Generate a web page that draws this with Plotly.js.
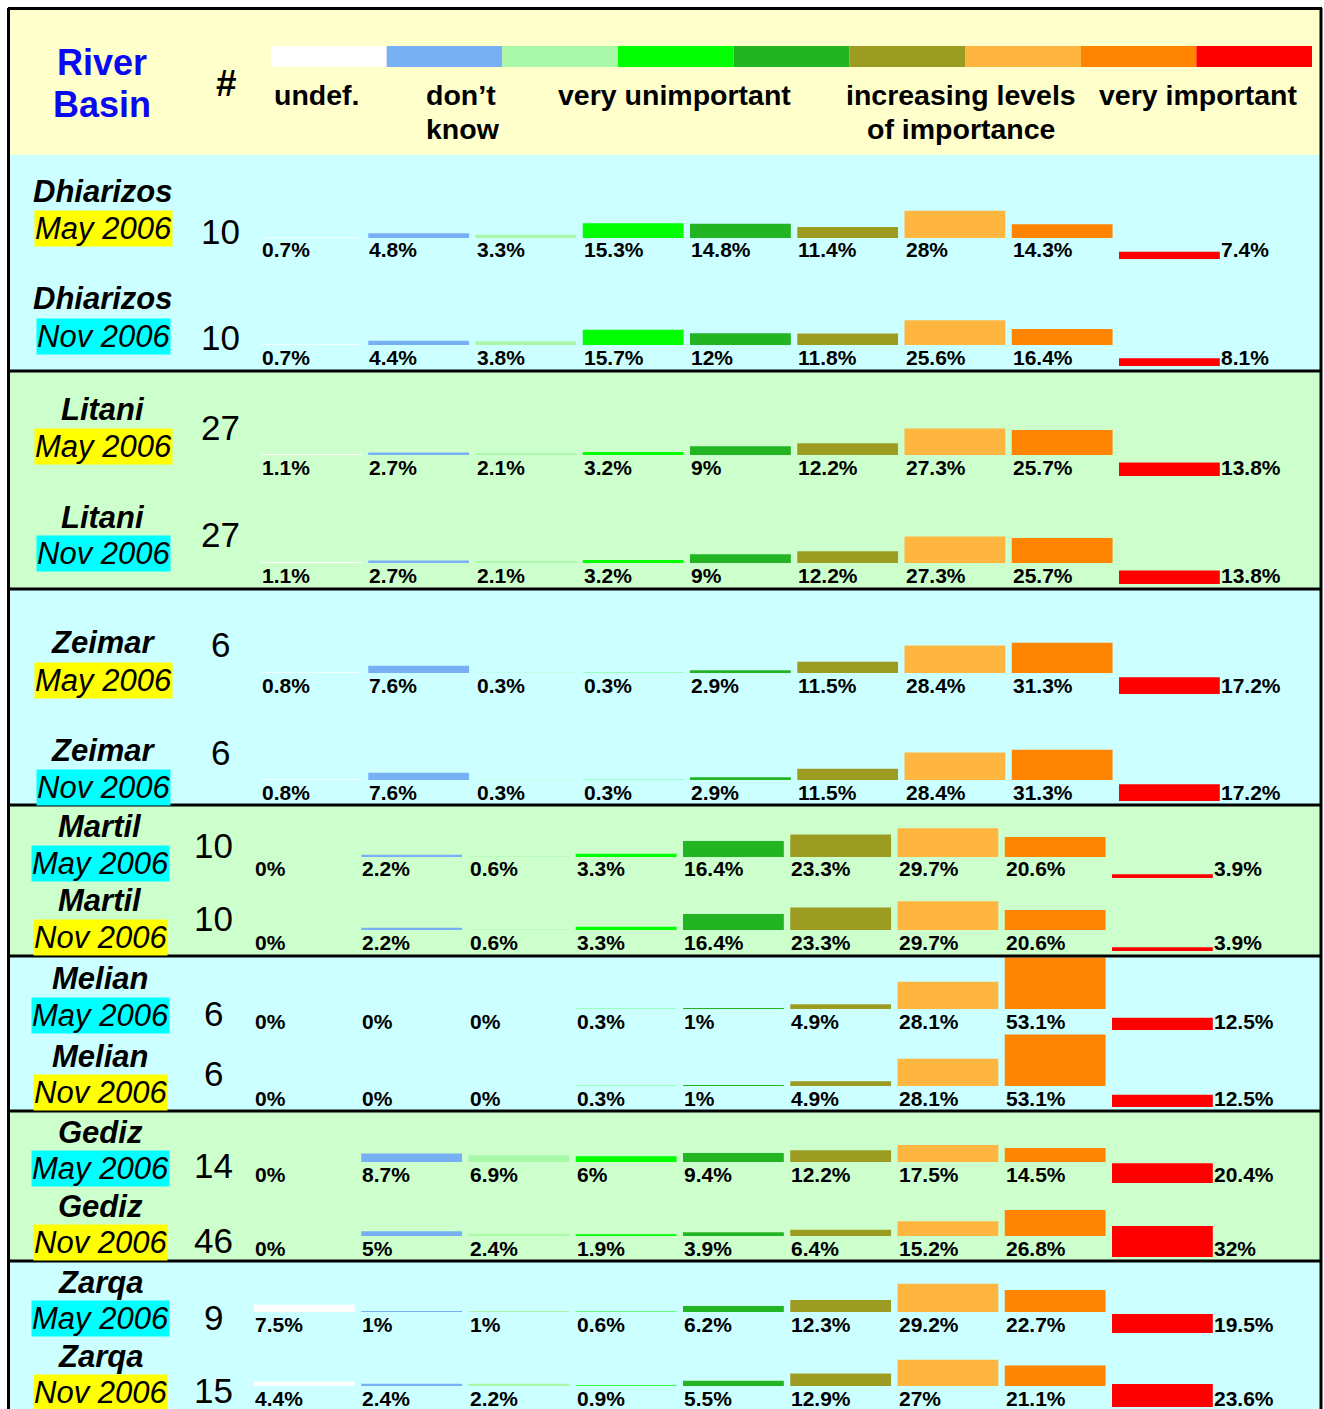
<!DOCTYPE html>
<html><head><meta charset="utf-8">
<script src="https://cdn.plot.ly/plotly-3.0.1.min.js"></script>
<style>html,body{margin:0;padding:0;background:#fff}#chart{width:1324px;height:1409px}</style>
</head><body><div id="chart"></div>
<script>
// ================= DATA =================
const levels = ['undef.', 'don\u2019t know', 'very unimportant', 'level 2', 'level 3', 'level 4', 'level 5', 'level 6', 'very important'];
const keyLabels = ['undef.', 'don\u2019t', 'know', 'very unimportant', 'increasing levels', 'of importance', 'very important'];
const headerLabels = ['River', 'Basin', '#'];
const basins = ['Dhiarizos', 'Dhiarizos', 'Litani', 'Litani', 'Zeimar', 'Zeimar', 'Martil', 'Martil',
                'Melian', 'Melian', 'Gediz', 'Gediz', 'Zarqa', 'Zarqa'];
const surveys = ['May 2006', 'Nov 2006', 'May 2006', 'Nov 2006', 'May 2006', 'Nov 2006', 'May 2006', 'Nov 2006',
                 'May 2006', 'Nov 2006', 'May 2006', 'Nov 2006', 'May 2006', 'Nov 2006'];
const respondents = [10, 10, 27, 27, 6, 6, 10, 10, 6, 6, 14, 46, 9, 15];

const dhiarizosMay = [0.7, 4.8, 3.3, 15.3, 14.8, 11.4, 28, 14.3, 7.4];
const dhiarizosNov = [0.7, 4.4, 3.8, 15.7, 12, 11.8, 25.6, 16.4, 8.1];
const litaniMay    = [1.1, 2.7, 2.1, 3.2, 9, 12.2, 27.3, 25.7, 13.8];
const litaniNov    = [1.1, 2.7, 2.1, 3.2, 9, 12.2, 27.3, 25.7, 13.8];
const zeimarMay    = [0.8, 7.6, 0.3, 0.3, 2.9, 11.5, 28.4, 31.3, 17.2];
const zeimarNov    = [0.8, 7.6, 0.3, 0.3, 2.9, 11.5, 28.4, 31.3, 17.2];
const martilMay    = [0, 2.2, 0.6, 3.3, 16.4, 23.3, 29.7, 20.6, 3.9];
const martilNov    = [0, 2.2, 0.6, 3.3, 16.4, 23.3, 29.7, 20.6, 3.9];
const melianMay    = [0, 0, 0, 0.3, 1, 4.9, 28.1, 53.1, 12.5];
const melianNov    = [0, 0, 0, 0.3, 1, 4.9, 28.1, 53.1, 12.5];
const gedizMay     = [0, 8.7, 6.9, 6, 9.4, 12.2, 17.5, 14.5, 20.4];
const gedizNov     = [0, 5, 2.4, 1.9, 3.9, 6.4, 15.2, 26.8, 32];
const zarqaMay     = [7.5, 1, 1, 0.6, 6.2, 12.3, 29.2, 22.7, 19.5];
const zarqaNov     = [4.4, 2.4, 2.2, 0.9, 5.5, 12.9, 27, 21.1, 23.6];

const rowValues = [dhiarizosMay, dhiarizosNov, litaniMay, litaniNov, zeimarMay, zeimarNov,
                   martilMay, martilNov, melianMay, melianNov, gedizMay, gedizNov, zarqaMay, zarqaNov];

// ================= STYLE / LAYOUT =================
const W = 1324, H = 1409;
const FONT = 'Liberation Sans, Arial, Helvetica, sans-serif';
const levelColors = ['#FFFFFF', '#77B0F5', '#A8F8A8', '#00FF00', '#22B422', '#9C9C22', '#FFB640', '#FF8400', '#FF0000'];
const dateHighlight = ['#FFFF00', '#00FFFF', '#FFFF00', '#00FFFF', '#FFFF00', '#00FFFF', '#00FFFF', '#FFFF00',
                       '#00FFFF', '#FFFF00', '#00FFFF', '#FFFF00', '#00FFFF', '#FFFF00'];
// pixel geometry of the rows
const rowBasePx = [238, 345, 455, 563, 673, 780, 857, 930, 1009, 1086, 1162, 1236, 1312, 1386];
const nameYPx   = [191, 298, 410, 517, 643, 750, 826, 900, 979, 1056, 1132, 1206, 1282, 1356];
const dateYPx   = [228, 336, 446, 553, 680, 787, 863, 937, 1015, 1092, 1168, 1242, 1318, 1392];
const countYPx  = [231, 338, 427, 534, 644, 752, 845, 919, 1013, 1073, 1165, 1240, 1317, 1390];
const sectionTops = [155, 371, 589, 805, 956, 1111, 1261];
const sectionBottoms = [371, 589, 805, 956, 1111, 1261, 1409];
const sectionBg = ['#CCFFFF', '#CCFFCC', '#CCFFFF', '#CCFFCC', '#CCFFFF', '#CCFFCC', '#CCFFFF'];
const COL = 107.25;          // column pitch in px
const BAR_W = 0.94;          // bar width (fraction of column)
const PX_PER_PCT = 0.97;     // vertical scale
const RED_DROP = 21;         // last column drawn lower (px)
const LABEL_DROP = 12;       // percent label centre below baseline (px)
const ABOVE = 62, BELOW = 22;

const px2x = p => p / W;
const px2y = p => 1 - p / H;

const traces = [];
const annotations = [];
const shapes = [];
const layout = {
  width: W, height: H,
  margin: {l: 0, r: 0, t: 0, b: 0},
  paper_bgcolor: '#FFFFFF',
  plot_bgcolor: 'rgba(0,0,0,0)',
  showlegend: false,
  font: {family: FONT, color: '#000'},
};

// backgrounds
shapes.push({type: 'rect', xref: 'paper', yref: 'paper', layer: 'below',
  x0: px2x(8), x1: px2x(1322), y0: px2y(155), y1: px2y(9), fillcolor: '#FFFFCC', line: {width: 0}});
sectionTops.forEach((t, s) => {
  shapes.push({type: 'rect', xref: 'paper', yref: 'paper', layer: 'below',
    x0: px2x(8), x1: px2x(1322), y0: px2y(sectionBottoms[s]), y1: px2y(t),
    fillcolor: sectionBg[s], line: {width: 0}});
});
// separators
sectionTops.slice(1).forEach(t => {
  shapes.push({type: 'line', xref: 'paper', yref: 'paper', layer: 'above',
    x0: px2x(8), x1: px2x(1322), y0: px2y(t), y1: px2y(t), line: {color: '#000', width: 3}});
});
// frame
shapes.push({type: 'line', xref: 'paper', yref: 'paper', x0: px2x(8), x1: px2x(1322), y0: px2y(8.5), y1: px2y(8.5), line: {color: '#000', width: 3}});
shapes.push({type: 'line', xref: 'paper', yref: 'paper', x0: px2x(8.5), x1: px2x(8.5), y0: px2y(8), y1: 0, line: {color: '#000', width: 3}});
shapes.push({type: 'line', xref: 'paper', yref: 'paper', x0: px2x(1321), x1: px2x(1321), y0: px2y(8), y1: 0, line: {color: '#000', width: 3}});

// colour key strip
const KEY_X0 = 271, KEY_X1 = 1312;
const keyW = (KEY_X1 - KEY_X0) / levelColors.length;
levelColors.forEach((c, i) => {
  shapes.push({type: 'rect', xref: 'paper', yref: 'paper',
    x0: px2x(KEY_X0 + i * keyW), x1: px2x(KEY_X0 + (i + 1) * keyW),
    y0: px2y(67), y1: px2y(46), fillcolor: c, line: {width: 0}});
});
const keyFont = {family: FONT, size: 28.5, color: '#000', weight: 'bold'};
const keyPos = [
  {x: 272, y: 95, a: 'left'}, {x: 424, y: 95, a: 'left'}, {x: 424, y: 129, a: 'left'},
  {x: 556, y: 95, a: 'left'}, {x: 961, y: 95, a: 'center'}, {x: 961, y: 129, a: 'center'},
  {x: 1097, y: 95, a: 'left'}];
keyLabels.forEach((t, i) => {
  annotations.push({xref: 'paper', yref: 'paper', x: px2x(keyPos[i].x), y: px2y(keyPos[i].y),
    xanchor: keyPos[i].a, yanchor: 'middle', text: t, showarrow: false, font: keyFont});
});
// header
const headFont = {family: FONT, size: 36, color: '#0A0AF0', weight: 'bold'};
annotations.push({xref: 'paper', yref: 'paper', x: px2x(102), y: px2y(63), xanchor: 'center', yanchor: 'middle',
  text: headerLabels[0], showarrow: false, font: headFont});
annotations.push({xref: 'paper', yref: 'paper', x: px2x(102), y: px2y(104), xanchor: 'center', yanchor: 'middle',
  text: headerLabels[1], showarrow: false, font: headFont});
annotations.push({xref: 'paper', yref: 'paper', x: px2x(227), y: px2y(84), xanchor: 'center', yanchor: 'middle',
  text: headerLabels[2], showarrow: false, font: {family: FONT, size: 37, color: '#000', weight: 'bold'}});

// rows
rowValues.forEach((vals, r) => {
  const n = r === 0 ? '' : String(r + 1);
  const x0 = r < 6 ? 261 : 254;
  const labelX = r < 6 ? 103 : 100;
  const countX = r < 6 ? 220 : 213;
  const yb = rowBasePx[r];
  layout['xaxis' + n] = {domain: [px2x(x0), px2x(x0 + levels.length * COL)], range: [0, levels.length],
    visible: false, fixedrange: true, anchor: 'y' + n};
  layout['yaxis' + n] = {domain: [px2y(yb + BELOW), px2y(yb - ABOVE)], range: [-BELOW / PX_PER_PCT, ABOVE / PX_PER_PCT],
    visible: false, fixedrange: true, anchor: 'x' + n};
  const last = levels.length - 1;
  traces.push({
    type: 'bar', xaxis: 'x' + n, yaxis: 'y' + n,
    x: levels.map((_, i) => i), y: vals,
    base: levels.map((_, i) => i === last ? -RED_DROP / PX_PER_PCT : 0),
    offset: 0, width: BAR_W,
    marker: {color: levelColors, line: {width: 0}},
    hoverinfo: 'skip', cliponaxis: false,
  });
  vals.forEach((v, i) => {
    annotations.push({xref: 'x' + n, yref: 'y' + n,
      x: i === last ? i + BAR_W : i, y: -LABEL_DROP / PX_PER_PCT,
      xanchor: 'left', yanchor: 'middle', showarrow: false, text: v + '%', borderpad: 0,
      font: {family: FONT, size: 21, color: '#000', weight: 'bold'}});
  });
  annotations.push({xref: 'paper', yref: 'paper', x: px2x(labelX), y: px2y(nameYPx[r]), xanchor: 'center', yanchor: 'middle',
    showarrow: false, text: basins[r], font: {family: FONT, size: 31, color: '#000', weight: 'bold', style: 'italic'}});
  annotations.push({xref: 'paper', yref: 'paper', x: px2x(labelX), y: px2y(dateYPx[r]), xanchor: 'center', yanchor: 'middle',
    showarrow: false, text: surveys[r], bgcolor: dateHighlight[r], borderpad: 0,
    font: {family: FONT, size: 31, color: '#000', style: 'italic'}});
  annotations.push({xref: 'paper', yref: 'paper', x: px2x(countX), y: px2y(countYPx[r]), xanchor: 'center', yanchor: 'middle',
    showarrow: false, text: String(respondents[r]), font: {family: FONT, size: 35, color: '#000'}});
});

layout.shapes = shapes;
layout.annotations = annotations;
Plotly.newPlot('chart', traces, layout, {staticPlot: true, displayModeBar: false});
</script></body></html>
